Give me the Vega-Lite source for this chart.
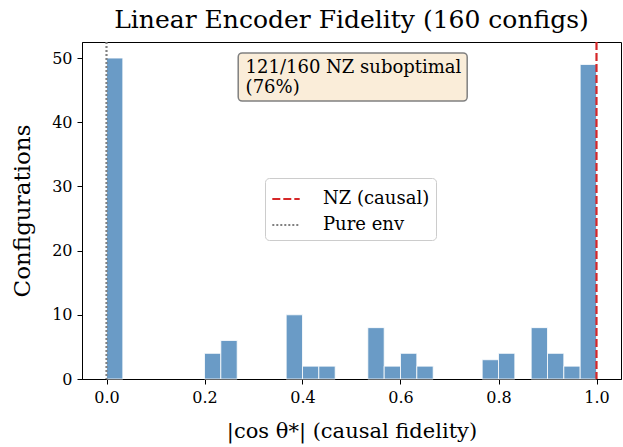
{
  "$schema": "https://vega.github.io/schema/vega-lite/v6.json",
  "width": 539,
  "height": 337,
  "autosize": {"type": "none"},
  "padding": {"left": 82, "top": 42, "right": 2, "bottom": 68},
  "background": "white",
  "config": {
    "font": "DejaVu Serif",
    "view": {"stroke": "black", "strokeWidth": 1},
    "axis": {"grid": false, "domainColor": "black", "tickColor": "black", "labelColor": "black", "titleColor": "black", "labelFont": "DejaVu Serif", "titleFont": "DejaVu Serif", "labelFontSize": 16, "titleFontSize": 22, "titleFontWeight": "normal", "tickSize": 5, "labelPadding": 5},
    "title": {"font": "DejaVu Serif", "fontSize": 25, "fontWeight": "normal", "color": "black"}
  },
  "title": {"text": "Linear Encoder Fidelity (160 configs)", "anchor": "middle", "offset": 8},
  "datasets": {
    "bins": [
      {"bin_start": 0.0, "bin_end": 0.0333, "count": 50},
      {"bin_start": 0.2, "bin_end": 0.2333, "count": 4},
      {"bin_start": 0.2333, "bin_end": 0.2667, "count": 6},
      {"bin_start": 0.3667, "bin_end": 0.4, "count": 10},
      {"bin_start": 0.4, "bin_end": 0.4333, "count": 2},
      {"bin_start": 0.4333, "bin_end": 0.4667, "count": 2},
      {"bin_start": 0.5333, "bin_end": 0.5667, "count": 8},
      {"bin_start": 0.5667, "bin_end": 0.6, "count": 2},
      {"bin_start": 0.6, "bin_end": 0.6333, "count": 4},
      {"bin_start": 0.6333, "bin_end": 0.6667, "count": 2},
      {"bin_start": 0.7667, "bin_end": 0.8, "count": 3},
      {"bin_start": 0.8, "bin_end": 0.8333, "count": 4},
      {"bin_start": 0.8667, "bin_end": 0.9, "count": 8},
      {"bin_start": 0.9, "bin_end": 0.9333, "count": 4},
      {"bin_start": 0.9333, "bin_end": 0.9667, "count": 2},
      {"bin_start": 0.9667, "bin_end": 1.0, "count": 49}
    ],
    "refs": [
      {"value": 1.0, "label": "NZ (causal)"},
      {"value": 0.0, "label": "Pure env"}
    ]
  },
  "layer": [
    {
      "data": {"name": "bins"},
      "mark": {"type": "bar", "color": "#6a9bc6", "stroke": "white", "strokeWidth": 0.8},
      "encoding": {
        "x": {"field": "bin_start", "type": "quantitative", "scale": {"domain": [-0.05, 1.05], "nice": false, "zero": false}, "axis": {"values": [0, 0.2, 0.4, 0.6, 0.8, 1.0], "format": ".1f", "title": "|cos θ*| (causal fidelity)", "titleFontSize": 21, "titlePadding": 15}},
        "x2": {"field": "bin_end"},
        "y": {"field": "count", "type": "quantitative", "scale": {"domain": [0, 52.5], "nice": false}, "axis": {"values": [0, 10, 20, 30, 40, 50], "title": "Configurations", "titleFontSize": 23, "titlePadding": 17}},
        "y2": {"datum": 0}
      }
    },
    {
      "data": {"name": "refs"},
      "mark": {"type": "rule", "strokeWidth": 2.2},
      "encoding": {
        "x": {"field": "value", "type": "quantitative"},
        "color": {"field": "label", "type": "nominal", "scale": {"domain": ["NZ (causal)", "Pure env"], "range": ["#d62728", "#808080"]}, "legend": {"title": null, "orient": "none", "legendX": 183, "legendY": 136, "symbolType": "stroke", "symbolSize": 750, "symbolStrokeWidth": 2.2, "labelFont": "DejaVu Serif", "labelFontSize": 18, "labelColor": "black", "fillColor": "white", "strokeColor": "#cccccc", "cornerRadius": 4, "padding": 6, "rowPadding": 2, "labelOffset": 22}},
        "strokeDash": {"field": "label", "type": "nominal", "scale": {"domain": ["NZ (causal)", "Pure env"], "range": [[8, 3], [2, 2]]}, "legend": {"title": null, "orient": "none", "legendX": 183, "legendY": 136, "symbolType": "stroke", "symbolSize": 750, "symbolStrokeWidth": 2.2, "labelFont": "DejaVu Serif", "labelFontSize": 18, "labelColor": "black", "fillColor": "white", "strokeColor": "#cccccc", "cornerRadius": 4, "padding": 6, "rowPadding": 2, "labelOffset": 22}}
      }
    },
    {
      "data": {"values": [{"note": "annotation"}]},
      "mark": {"type": "rect", "fill": "#faedd9", "stroke": "#808080", "strokeWidth": 1.5, "cornerRadius": 4},
      "encoding": {
        "x": {"datum": 0.2688, "type": "quantitative"},
        "x2": {"datum": 0.7361},
        "y": {"datum": 50.8, "type": "quantitative"},
        "y2": {"datum": 43.3}
      }
    },
    {
      "data": {"values": [{"note": "annotation"}]},
      "mark": {"type": "text", "text": ["121/160 NZ suboptimal", "(76%)"], "align": "left", "baseline": "top", "font": "DejaVu Serif", "fontSize": 18, "lineHeight": 20, "color": "black"},
      "encoding": {
        "x": {"datum": 0.2839, "type": "quantitative"},
        "y": {"datum": 49.9, "type": "quantitative"}
      }
    }
  ]
}
